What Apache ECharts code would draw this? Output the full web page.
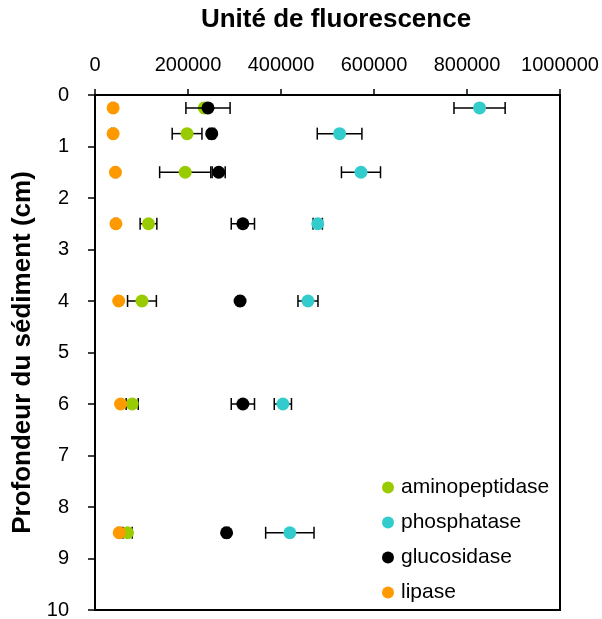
<!DOCTYPE html>
<html>
<head>
<meta charset="utf-8">
<script src="https://cdn.jsdelivr.net/npm/echarts@6/dist/echarts.min.js"></script>
<style>html,body{margin:0;padding:0;background:#fff;}#c{width:602px;height:619px;}</style>
</head>
<body>
<div id="c"></div>
<script>
const depths = [0.25, 0.75, 1.5, 2.5, 4, 6, 8.5];
const seriesNames = ['aminopeptidase', 'phosphatase', 'glucosidase', 'lipase'];
const aminopeptidase = [235000, 198000, 194000, 115000, 101000, 80000, 70000];
const aminopeptidaseErr = [5000, 32000, 55000, 18000, 31000, 13000, 10000];
const phosphatase = [827000, 526000, 572000, 479000, 458000, 404000, 419000];
const phosphataseErr = [55000, 48000, 42000, 10000, 21500, 18500, 52000];
const glucosidase = [243000, 251000, 266000, 318000, 312000, 318000, 283000];
const glucosidaseErr = [47500, 6000, 14000, 25000, 5000, 25000, 5000];
const lipase = [39000, 39000, 44000, 45000, 51000, 55000, 52000];
const lipaseErr = [3000, 3000, 3000, 3000, 3000, 3000, 3000];
const xTicks = [0, 200000, 400000, 600000, 800000, 1000000];
const yTicks = [0, 1, 2, 3, 4, 5, 6, 7, 8, 9, 10];
const colors = ['#99CC00', '#33CCCC', '#000000', '#FF9900'];

const FONT = "'Liberation Sans', Arial, sans-serif";
const means = [aminopeptidase, phosphatase, glucosidase, lipase];
const errs = [aminopeptidaseErr, phosphataseErr, glucosidaseErr, lipaseErr];

function errRender(params, api) {
  const lo = api.coord([api.value(0), api.value(2)]);
  const hi = api.coord([api.value(1), api.value(2)]);
  const h = 6;
  const st = { stroke: '#000', lineWidth: 1.5 };
  return {
    type: 'group',
    children: [
      { type: 'line', shape: { x1: lo[0], y1: lo[1], x2: hi[0], y2: hi[1] }, style: st },
      { type: 'line', shape: { x1: lo[0], y1: lo[1] - h, x2: lo[0], y2: lo[1] + h }, style: st },
      { type: 'line', shape: { x1: hi[0], y1: hi[1] - h, x2: hi[0], y2: hi[1] + h }, style: st }
    ]
  };
}

const series = [];
seriesNames.forEach((n, i) => {
  series.push({
    name: 'err-' + n,
    type: 'custom',
    renderItem: errRender,
    encode: { x: [0, 1], y: 2 },
    data: depths.map((d, k) => [means[i][k] - errs[i][k], means[i][k] + errs[i][k], d]),
    z: 2 + i * 2,
    silent: true
  });
  series.push({
    name: n,
    type: 'scatter',
    symbol: 'circle',
    symbolSize: 13,
    itemStyle: { color: colors[i], opacity: 1 },
    data: depths.map((d, k) => [means[i][k], d]),
    z: 3 + i * 2
  });
});

const chart = echarts.init(document.getElementById('c'), null, { renderer: 'canvas' });
chart.setOption({
  animation: false,
  backgroundColor: '#fff',
  textStyle: { fontFamily: FONT },
  grid: { left: 95, right: 42, top: 95, bottom: 9, containLabel: false, outerBoundsMode: 'none', show: true, borderColor: '#000', borderWidth: 2, backgroundColor: 'transparent' },
  legend: {
    data: seriesNames.map((n, i) => ({ name: n, itemStyle: { color: colors[i] } })),
    orient: 'vertical',
    left: 377,
    top: 472,
    icon: 'circle',
    itemWidth: 14,
    itemHeight: 12,
    itemGap: 14,
    textStyle: { fontFamily: FONT, fontSize: 21, color: '#000', lineHeight: 21, padding: [0, 0, 0, 1] }
  },
  xAxis: {
    type: 'value',
    position: 'top',
    min: xTicks[0],
    max: xTicks[xTicks.length - 1],
    interval: xTicks[1] - xTicks[0],
    name: 'Unité de fluorescence',
    nameLocation: 'middle',
    nameGap: 62,
    nameTextStyle: { fontFamily: FONT, fontSize: 26, fontWeight: 'bold', color: '#000', padding: [0, 0, 0, 17] },
    axisLine: { show: true, lineStyle: { color: '#000', width: 2 } },
    axisTick: { show: true, inside: false, length: 6, lineStyle: { color: '#000', width: 1.5 } },
    axisLabel: { fontFamily: FONT, fontSize: 20, color: '#000', margin: 20, formatter: v => String(v) },
    splitLine: { show: false }
  },
  yAxis: {
    type: 'value',
    inverse: true,
    min: yTicks[0],
    max: yTicks[yTicks.length - 1],
    interval: 1,
    name: 'Profondeur du sédiment (cm)',
    nameLocation: 'middle',
    nameGap: 50,
    nameRotate: 90,
    nameTextStyle: { fontFamily: FONT, fontSize: 26, fontWeight: 'bold', color: '#000' },
    axisLine: { show: true, lineStyle: { color: '#000', width: 2 } },
    axisTick: { show: true, inside: false, length: 7, lineStyle: { color: '#000', width: 1.5 } },
    axisLabel: { fontFamily: FONT, fontSize: 20, color: '#000', margin: 26, formatter: v => String(v) },
    splitLine: { show: false }
  },
  series: series
});
</script>
</body>
</html>
